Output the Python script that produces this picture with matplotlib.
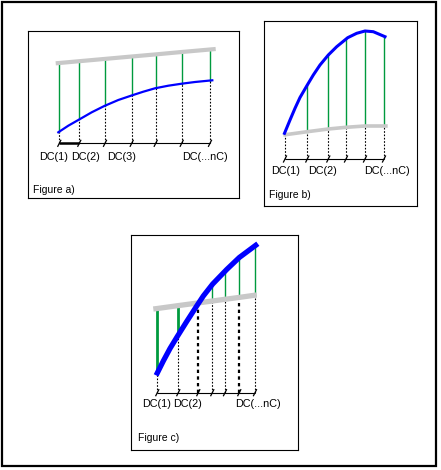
import numpy as np
import matplotlib
matplotlib.use("Agg")
import matplotlib.pyplot as plt
from matplotlib.patches import Rectangle

# ---------------- data (panel-local units) ----------------
# Figure a)
a_ticks = [31.3, 51.3, 77, 103.7, 127.7, 153.7, 182]
a_gray_x = [27.7, 31.3, 51.3, 77, 103.7, 127.7, 153.7, 182, 187.7]
a_gray_y = [134.7, 135, 136.8, 139.1, 141.5, 143.6, 146, 148.5, 149]
a_blue_x = [30.3, 40.3, 50.3, 63.7, 76.3, 90.3, 103, 115.3, 127, 140.3, 153.7, 167, 184.3]
a_blue_y = [65.7, 72.3, 78, 85.7, 92, 98, 102.3, 106.3, 109.7, 112.3, 114.3, 116, 117.7]
a_labels = ["DC(1)", "DC(2)", "DC(3)", "DC(...nC)"]
a_label_x = [25.5, 58, 94, 177]

# Figure b)
b_ticks = [21, 43.3, 64.3, 82, 101, 120]
b_blue_x = [20.5, 26, 31, 36, 43.3, 49.3, 56, 64.3, 72.7, 83.7, 92.7, 101, 109.3, 121]
b_blue_y = [72.7, 86, 97.7, 108.5, 121, 131, 141, 151, 159.3, 168.3, 172.7, 175, 174.3, 169.3]
b_gray_x = [19.3, 43.3, 64.3, 82, 101, 120, 123.7]
b_gray_y = [71, 74.3, 77, 78.7, 80, 80, 80]
b_labels = ["DC(1)", "DC(2)", "DC(...nC)"]
b_label_x = [22, 58.7, 123]

# Figure c)
c_ticks = [26.3, 47.3, 67.3, 81.3, 94, 108.3, 124]
c_blue_x = [26.3, 32.3, 39, 46.3, 55.7, 65.7, 72.3, 81.7, 95.7, 108.3, 124.7]
c_blue_y = [77, 89, 101.5, 113.5, 128.5, 144, 154, 166, 180.5, 192.5, 204.7]
c_gray_x = [22.3, 26.3, 47.3, 67.3, 81.3, 94, 108.3, 124, 125.7]
c_gray_y = [141, 141.5, 144.4, 147.1, 149, 150.7, 152.6, 154.8, 155]
c_labels = ["DC(1)", "DC(2)", "DC(...nC)"]
c_label_x = [26, 57, 127]

BLUE = "#0000ff"
GRAY = "#c8c8c8"
GREEN = "#009a3e"
FONT = "Liberation Sans"

W, H = 441, 470
fig = plt.figure(figsize=(W / 100, H / 100), dpi=100)
base = fig.add_axes([0, 0, 1, 1])
base.set_xlim(0, W)
base.set_ylim(H, 0)
base.axis("off")
base.add_patch(Rectangle((2, 2), 434, 464, fill=False, ec="black", lw=1.6))


def panel(box):
    l, t, r, b = box
    ax = fig.add_axes([l / W, 1 - b / H, (r - l) / W, (b - t) / H])
    ax.set_xlim(0, r - l)
    ax.set_ylim(0, b - t)
    ax.set_xticks([])
    ax.set_yticks([])
    for s in ax.spines.values():
        s.set_linewidth(0.8)
        s.set_color("black")
    return ax


def axis_line(ax, ticks, y, bold_to=None):
    ax.plot([ticks[0], ticks[-1]], [y, y], color="black", lw=0.8,
            solid_capstyle="butt")
    if bold_to is not None:
        ax.plot([ticks[0], ticks[bold_to]], [y, y], color="black", lw=1.8,
                solid_capstyle="butt")
    for x in ticks:
        ax.plot([x - 1.5, x + 1.5], [y - 3, y + 3], color="black", lw=0.9)


def dashed(ax, x, y0, y1, lw=0.8):
    ax.plot([x, x], [y0, y1], color="black", lw=lw, linestyle=(0, (1.5, 1.5)))


def labels(ax, names, xs, y, fig_name, fx, fy):
    for n, x in zip(names, xs):
        ax.text(x, y, n, ha="center", va="center", fontsize=7.8, family=FONT)
    ax.text(fx, fy, fig_name, ha="left", va="center", fontsize=7.5, family=FONT)


# ---------- Figure a ----------
ax = panel((28, 31, 239, 198))
ay = 54.7
for x in a_ticks:
    g = np.interp(x, a_gray_x, a_gray_y)
    bl = np.interp(x, a_blue_x, a_blue_y)
    ax.plot([x, x], [bl, g], color=GREEN, lw=1.0)
    dashed(ax, x, ay, bl)
ax.plot(a_gray_x, a_gray_y, color=GRAY, lw=3.0, solid_capstyle="butt")
ax.plot(a_blue_x, a_blue_y, color=BLUE, lw=1.6, solid_joinstyle="round")
axis_line(ax, a_ticks, ay, bold_to=1)
labels(ax, a_labels, a_label_x, 41.3, "Figure a)", 5.3, 8)

# ---------- Figure b ----------
ax = panel((264, 21, 417, 206))
by = 47
for i, x in enumerate(b_ticks):
    g = np.interp(x, b_gray_x, b_gray_y)
    bl = np.interp(x, b_blue_x, b_blue_y)
    if i > 0:
        ax.plot([x, x], [g, bl], color=GREEN, lw=1.0)
    dashed(ax, x, by, g)
ax.plot(b_gray_x, b_gray_y, color=GRAY, lw=2.6, solid_capstyle="butt")
ax.plot(b_blue_x, b_blue_y, color=BLUE, lw=2.2, solid_joinstyle="round")
axis_line(ax, b_ticks, by)
labels(ax, b_labels, b_label_x, 35.3, "Figure b)", 5.3, 11)

# ---------- Figure c ----------
ax = panel((131, 235, 298, 450))
cy = 57.3
for i, x in enumerate(c_ticks):
    g = np.interp(x, c_gray_x, c_gray_y)
    bl = np.interp(x, c_blue_x, c_blue_y)
    if i != 2:
        ax.plot([x, x], [min(g, bl), max(g, bl)], color=GREEN,
                lw=2.0 if i < 2 else 1.0)
    dashed(ax, x, cy, min(g, bl), lw=1.6 if i in (2, 5) else 0.8)
ax.plot(c_gray_x, c_gray_y, color=GRAY, lw=3.8, solid_capstyle="butt")
ax.plot(c_blue_x, c_blue_y, color=BLUE, lw=3.8, solid_joinstyle="round")
axis_line(ax, c_ticks, cy)
labels(ax, c_labels, c_label_x, 46, "Figure c)", 7.3, 11.7)

fig.savefig("out.png", dpi=100)
